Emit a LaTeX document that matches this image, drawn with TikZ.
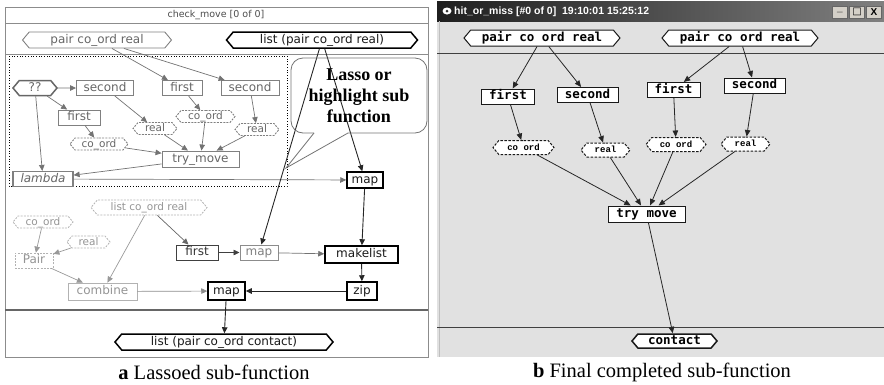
\documentclass[tikz,border=0pt]{standalone}
\usepackage{fontspec}
\setmainfont{Liberation Serif}
\newfontfamily\genevafont{DejaVu Sans}
\newfontfamily\macmono{DejaVu Sans Mono}
\newfontfamily\courfont{Liberation Mono}
\newfontfamily\winfont{Liberation Sans}
\usetikzlibrary{shapes.symbols,arrows.meta}

\definecolor{winbg}{HTML}{E1E1E1}
\definecolor{btngray}{HTML}{D4D0C8}

\tikzset{
  gbox/.style={rectangle, draw, inner xsep=2pt, inner ysep=0pt, minimum height=15pt,
    text height=8.5pt, text depth=2.4pt, font=\genevafont\fontsize{12}{12}\selectfont},
  ghex/.style={gbox, signal, signal to=west and east, signal pointer angle=100},
  gdash/.style={dash pattern=on 2pt off 1.2pt, minimum height=12pt,
    font=\genevafont\fontsize{10.5}{10.5}\selectfont},
  lassoed/.style={draw=black!50, text=black!60, line width=0.9pt},
  faded/.style={draw=black!30, text=black!42, line width=0.8pt},
  heavy/.style={draw=black, text=black!90, line width=1.5pt},
  garrow/.style={-{Triangle[length=6pt,width=5.5pt]}, line width=0.7pt},
  wbox/.style={rectangle, draw=black!90, fill=white, line width=1pt, inner xsep=2pt,
    inner ysep=0pt, minimum height=15pt, text height=9pt, text depth=2.5pt,
    font=\macmono\bfseries\fontsize{12.5}{12.5}\selectfont},
  whex/.style={wbox, signal, signal to=west and east, signal pointer angle=100},
  wsmall/.style={whex, dash pattern=on 2.5pt off 1.5pt, minimum height=14pt,
    text height=6.5pt, text depth=1.5pt, font=\courfont\bfseries\fontsize{9}{9}\selectfont},
  warrow/.style={-{Triangle[length=6.5pt,width=5.5pt]}, line width=0.8pt, draw=black!85},
  winbtn/.style={rectangle, draw=black!60, fill=btngray, minimum width=15pt,
    minimum height=12pt, inner sep=0pt, font=\winfont\bfseries\fontsize{10}{10}\selectfont}
}

\begin{document}
\begin{tikzpicture}[x=1pt, y=-1pt]
\useasboundingbox (0,0) rectangle (884,384);

% ---------------- Panel a ----------------
\draw[black!45, line width=1pt] (5,7) rectangle (428,357);
\draw[black!45, line width=1pt] (5,23) -- (428,23);
\draw[black!45, line width=1pt] (5,54.5) -- (428,54.5);
\draw[black!60, line width=1.3pt] (5,310) -- (428,310);
\node[font=\genevafont\fontsize{9.5}{9.5}\selectfont, text=black!70] (paneltitle) at (216,15) {check\_move [0 of 0]};

% inputs and output
\node[ghex, lassoed, minimum width=149pt, minimum height=16pt] (in1) at (97,40) {pair co\_ord real};
\node[ghex, heavy, minimum width=191pt, minimum height=16pt] (in2) at (322,40) {list (pair co\_ord real)};
\node[ghex, heavy, minimum width=218pt, minimum height=16pt] (out) at (224,342) {list (pair co\_ord contact)};

% lassoed part
\draw[dotted, line width=0.7pt] (9,56) rectangle (287,186);
\node[ghex, lassoed, line width=1.5pt, draw=black!60, minimum width=44pt] (qq) at (35,88) {??};
\node[gbox, lassoed, minimum width=57pt] (sec1) at (105,88) {second};
\node[gbox, lassoed, minimum width=40pt] (fst1) at (182,88) {first};
\node[gbox, lassoed, minimum width=58pt] (sec2) at (250,88) {second};
\node[gbox, lassoed, minimum width=42pt] (fst2) at (79,117.5) {first};
\node[ghex, gdash, lassoed, minimum width=44pt] (real1) at (155,128.5) {real};
\node[ghex, gdash, lassoed, minimum width=59pt] (coord1) at (205.5,116.5) {co\_ord};
\node[ghex, gdash, lassoed, minimum width=44pt] (real2) at (257,129.5) {real};
\node[ghex, gdash, lassoed, minimum width=58pt] (coord2) at (99,144) {co\_ord};
\node[gbox, lassoed, minimum width=77pt, minimum height=16pt] (try) at (200.5,159) {try\_move};
\node[gbox, lassoed, line width=1.2pt, minimum width=60pt, font=\genevafont\itshape\fontsize{12}{12}\selectfont] (lam) at (43,179) {lambda};
\node[gbox, heavy, minimum width=36pt, minimum height=16pt] (mapA) at (365,180) {map};

% rest of the graph
\node[ghex, gdash, faded, minimum width=116pt, minimum height=15pt] (lcr) at (149,207.5) {list co\_ord real};
\node[ghex, gdash, faded, minimum width=60pt] (co3) at (43,222) {co\_ord};
\node[ghex, gdash, faded, minimum width=43pt] (re3) at (88.5,242) {real};
\node[gbox, gdash, faded, minimum width=38pt, minimum height=15pt, font=\genevafont\fontsize{12}{12}\selectfont] (pr) at (34,260.5) {Pair};
\node[gbox, faded, minimum width=69pt, minimum height=17pt] (comb) at (102.5,291.5) {combine};
\node[gbox, draw=black!75, text=black!80, line width=1pt, minimum width=42pt] (fst3) at (197,252.5) {first};
\node[gbox, draw=black!45, text=black!50, line width=1pt, minimum width=38pt] (mapB) at (259,252.5) {map};
\node[gbox, heavy, minimum width=73pt, minimum height=17pt] (mk) at (361.5,254.5) {makelist};
\node[gbox, heavy, minimum width=30pt, minimum height=18pt] (zip) at (362,291) {zip};
\node[gbox, heavy, minimum width=37pt, minimum height=18pt] (mapC) at (226.5,291) {map};

% lassoed edges
\draw[garrow, black!55] (in1) -- (fst1);
\draw[garrow, black!55] (in1) -- (sec2);
\draw[garrow, black!55] (qq) -- (sec1);
\draw[garrow, black!55] (qq) -- (fst2);
\draw[garrow, black!55] (qq) -- (lam);
\draw[garrow, black!55] (sec1) -- (real1);
\draw[garrow, black!55] (fst1) -- (coord1);
\draw[garrow, black!55] (sec2) -- (real2);
\draw[garrow, black!55] (fst2) -- (coord2);
\draw[garrow, black!55] (coord2) -- (try);
\draw[garrow, black!55] (real1) -- (try);
\draw[garrow, black!55] (coord1) -- (try);
\draw[garrow, black!55] (real2) -- (try);
\draw[garrow, black!55] (try) -- (lam);
\draw[garrow, black!55] (lam) -- (mapA);

% other edges
\draw[garrow, black!85, line width=0.9pt] (in2) -- (mapA);
\draw[garrow, black!85, line width=0.9pt] (in2) -- (mapB);
\draw[garrow, black!40] (co3) -- (pr);
\draw[garrow, black!40] (re3) -- (pr);
\draw[garrow, black!40] (pr) -- (comb);
\draw[garrow, black!40] (lcr) -- (comb);
\draw[garrow, black!60] (lcr) -- (fst3);
\draw[garrow, black!75] (fst3) -- (mapB);
\draw[garrow, black!55] (mapB) -- (mk);
\draw[garrow, black!85, line width=0.9pt] (mapA) -- (mk);
\draw[garrow, black!85, line width=0.9pt] (mk) -- (zip);
\draw[garrow, black!85, line width=0.9pt] (zip) -- (mapC);
\draw[garrow, black!45] (comb) -- (mapC);
\draw[garrow, black!85, line width=0.9pt] (mapC) -- (out);

% callout
\coordinate (lassotip) at (286,168);
\draw[black!55, line width=0.8pt, rounded corners=12pt] (314,133) -- (291,133) -- (291,58) -- (427,58) -- (427,133) -- (348,133);
\draw[black!55, line width=0.8pt] (314,133) -- (lassotip) -- (348,133);
\node[font=\bfseries\fontsize{18}{21}\selectfont, align=center] (lassonote) at (359,96) {Lasso or\\highlight sub\\function};

\node[font=\fontsize{20.5}{20.5}\selectfont] (capa) at (214,372) {\textbf{a} Lassoed sub-function};

% ---------------- Panel b ----------------
\fill[winbg] (437,21) rectangle (884,357);
\shade[left color=black!88, right color=black!50] (437,1) rectangle (884,21);
\draw[black!25, line width=1pt] (439,21) -- (439,357);
\fill[white] (447,11) ellipse (4.5 and 3.5);
\fill[black!80] (447,11) circle (1.5);
\node[font=\winfont\bfseries\fontsize{10.5}{10.5}\selectfont, text=white, anchor=west, inner sep=0pt] (wintitle) at (454,11.5) {hit\_or\_miss [\#0 of 0]\ \ 19:10:01 15:25:12};
\node[winbtn] (btnmin) at (840,12) {\_};
\node[winbtn] (btnmax) at (857,12) {\genevafont □};
\node[winbtn] (btnclose) at (874,12) {X};
\draw[black!75, line width=1pt] (437,53) -- (884,53);
\draw[black!75, line width=1pt] (437,327) -- (884,327);

\node[whex, minimum width=156pt, minimum height=16pt] (rin1) at (542,38) {pair co ord real};
\node[whex, minimum width=156pt, minimum height=16pt] (rin2) at (740,38) {pair co ord real};
\node[wbox, minimum width=53pt] (rf1) at (508,96.5) {first};
\node[wbox, minimum width=61pt] (rs1) at (587.5,95) {second};
\node[wbox, minimum width=53pt] (rf2) at (673.5,90) {first};
\node[wbox, minimum width=61pt] (rs2) at (754.5,85.5) {second};
\node[wsmall, minimum width=61pt] (rc1) at (523.5,147.5) {co ord};
\node[wsmall, minimum width=49pt] (rr1) at (605.5,150) {real};
\node[wsmall, minimum width=60pt] (rc2) at (676,144.5) {co ord};
\node[wsmall, minimum width=49pt] (rr2) at (745.5,144) {real};
\node[wbox, minimum width=77pt, minimum height=16pt] (rtry) at (646.5,214) {try move};
\node[whex, line width=1.5pt, minimum width=85pt, minimum height=14pt] (rout) at (674.5,341) {contact};

\draw[warrow] (rin1) -- (rf1);
\draw[warrow] (rin1) -- (rs1);
\draw[warrow] (rin2) -- (rf2);
\draw[warrow] (rin2) -- (rs2);
\draw[warrow] (rf1) -- (rc1);
\draw[warrow] (rs1) -- (rr1);
\draw[warrow] (rf2) -- (rc2);
\draw[warrow] (rs2) -- (rr2);
\draw[warrow] (rc1) -- (rtry);
\draw[warrow] (rr1) -- (rtry);
\draw[warrow] (rc2) -- (rtry);
\draw[warrow] (rr2) -- (rtry);
\draw[warrow] (rtry) -- (rout);

\node[font=\fontsize{20.5}{20.5}\selectfont] (capb) at (662,372) {\textbf{b} Final completed sub-function};

\end{tikzpicture}
\end{document}
